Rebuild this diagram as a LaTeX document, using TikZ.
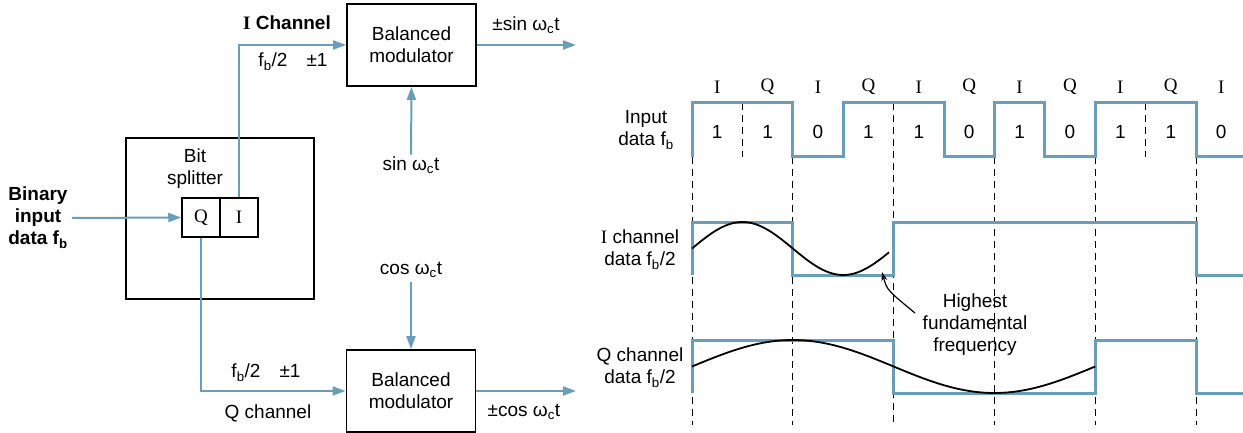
\documentclass[tikz,border=0pt]{standalone}
\usepackage{fontspec}
\setmainfont{Liberation Sans}
\newfontfamily\iqfont{Liberation Serif}
\usetikzlibrary{arrows.meta, positioning}
\definecolor{sigblue}{RGB}{104,158,186}
\newcommand{\lblsize}{\fontsize{19}{22}\selectfont}
\newcommand{\fsub}[1]{f\textsubscript{#1}}
\newcommand{\wc}{ω\textsubscript{c}t}
\tikzset{
  modbox/.style={draw, line width=1.8pt, minimum width=129pt, minimum height=82pt, align=center},
  cell/.style={draw, line width=1.5pt, minimum width=38pt, minimum height=39pt, inner sep=0pt},
  sig/.style={draw=sigblue, line width=2pt, -{Triangle[length=13pt,width=9pt]}},
  wave/.style={draw=sigblue, line width=3pt},
  guide/.style={line width=1pt, dash pattern=on 7pt off 5pt},
  lbl/.style={align=center, inner sep=0pt},
  boldlbl/.style={lbl, font=\lblsize\bfseries},
}

\begin{document}
\begin{tikzpicture}[x=1pt, y=-1pt, font=\lblsize]
  \useasboundingbox (0,0) rectangle (1243,433);

  % block diagram
  \node[draw, line width=1.8pt, minimum width=188pt, minimum height=161pt] (split) at (220,218.5) {};
  \node[lbl] (bitlbl) at (195,169) {Bit\\splitter};
  \node[cell] (qcell) at (201,217.5) {\iqfont Q};
  \node[cell] (icell) at (239,217.5) {\iqfont I};
  \node[boldlbl] (binlbl) at (38,218) {Binary\\input\\data \fsub{b}};
  \coordinate (din) at (72,218);

  \node[modbox] (modI) at (411.5,45) {Balanced\\modulator};
  \node[modbox] (modQ) at (411,391) {Balanced\\modulator};
  \node[lbl] (sinlbl) at (411,165) {sin \wc};
  \node[lbl] (coslbl) at (411,270) {cos \wc};
  \coordinate (outI) at (576,45);
  \coordinate (outQ) at (576,391);

  \node[boldlbl] (ichan) at (287,23) {{\iqfont I} Channel};
  \node[lbl] (fI) at (293,62) {\fsub{b}/2\quad ±1};
  \node[lbl] (sinout) at (526,25) {±sin \wc};
  \node[lbl] (fQ) at (266,373) {\fsub{b}/2\quad ±1};
  \node[lbl] (qchan) at (268,413) {Q channel};
  \node[lbl] (cosout) at (524,412) {±cos \wc};

  \draw[sig] (din) -- (qcell.west);
  \draw[sig] (icell.north) |- (modI.west);
  \draw[sig] (qcell.south) |- (modQ.west);
  \draw[sig, shorten <=2pt] (sinlbl.north) -- (modI.south);
  \draw[sig, shorten <=4pt] (coslbl.south) -- (modQ.north);
  \draw[sig] (modI.east) -- (outI);
  \draw[sig] (modQ.east) -- (outQ);

  % timing diagram
  \node[lbl] (inlbl) at (646,130) {Input\\data \fsub{b}};
  \node[lbl] (ilbl) at (640,250) {{\iqfont I} channel\\data \fsub{b}/2};
  \node[lbl] (qlbl) at (640,368) {Q channel\\data \fsub{b}/2};

  \foreach \ch [count=\i from 0] in {I,Q,I,Q,I,Q,I,Q,I,Q,I}
    \node[lbl] (ch\i) at ({692+50.4*(\i+0.5)},87) {\iqfont\ch};
  \foreach \b [count=\i from 0] in {1,1,0,1,1,0,1,0,1,1,0}
    \node[lbl] (bit\i) at ({692+50.4*(\i+0.5)},132) {\b};

  \foreach \k in {0,2,6,8,10}
    \draw[guide] ({692+50.4*\k},157) -- ++(0,268);
  \draw[guide] (893.6,103) -- ++(0,322);
  \foreach \k in {1,9}
    \draw[guide] ({692+50.4*\k},103) -- ++(0,54);

  \draw[wave] (692,157) -- (692,103) -- (792.8,103) -- (792.8,157) -- (843.2,157)
    -- (843.2,103) -- (944,103) -- (944,157) -- (994.4,157) -- (994.4,103)
    -- (1044.8,103) -- (1044.8,157) -- (1095.2,157) -- (1095.2,103) -- (1196,103)
    -- (1196,157) -- (1250,157);
  \draw[wave] (692,275) -- (692,222) -- (792.8,222) -- (792.8,275) -- (893.6,275)
    -- (893.6,222) -- (1196,222) -- (1196,275) -- (1250,275);
  \draw[wave] (692,393) -- (692,340) -- (893.6,340) -- (893.6,393) -- (1095.2,393)
    -- (1095.2,340) -- (1196,340) -- (1196,393) -- (1250,393);

  \draw[line width=1.8pt, smooth, samples=60, domain=0:197]
    plot ({692+\x},{248.5-26.5*sin(\x/100.8*180)});
  \draw[line width=1.8pt, smooth, samples=80, domain=0:403.2]
    plot ({692+\x},{366.5-26.5*sin(\x/201.6*180)});

  \node[lbl] (hilbl) at (975,325) {Highest\\fundamental\\frequency};
  \coordinate (hifrom) at (915,313);
  \coordinate (hitip) at (882,272);
  \draw[line width=1.2pt, -{Stealth[length=9pt,width=6pt]}] (hifrom) .. controls (887,290) .. (hitip);
\end{tikzpicture}
\end{document}
